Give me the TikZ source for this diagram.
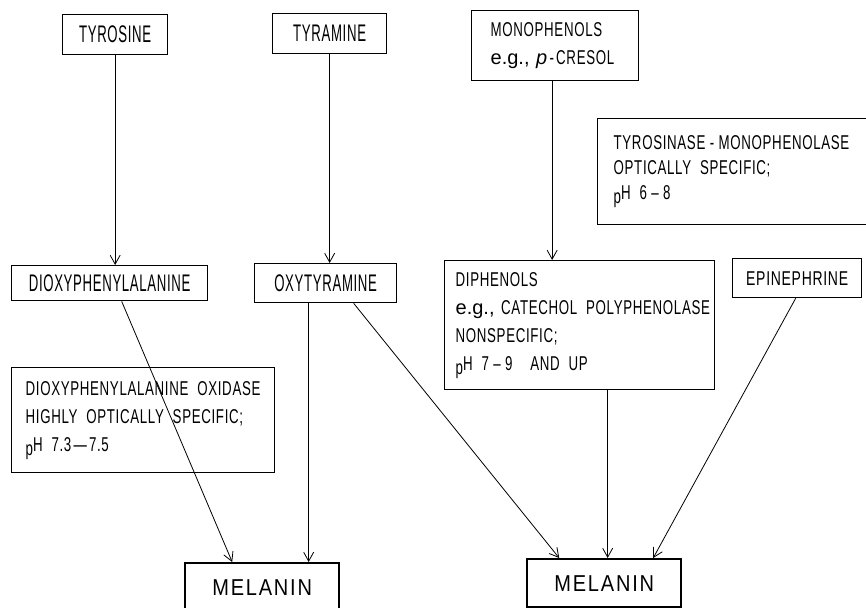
\documentclass[tikz,border=0pt]{standalone}
\usepackage{fontspec}
\usepackage{graphicx}
\usetikzlibrary{arrows.meta}
\newfontfamily\condf[LetterSpace=5]{Liberation Sans}
\newfontfamily\melf[LetterSpace=9]{Liberation Sans}
\newfontfamily\normf{Liberation Sans}
\newcommand\cx[1]{\scalebox{0.55}[1]{\condf #1}}
\newcommand\cy[1]{\scalebox{0.665}[1]{\condf #1}}
\newcommand\egx{{\normf e.g.,}}
\tikzset{
  box/.style={draw, line width=1.3pt, inner sep=0pt, anchor=north west,
    font=\normf\fontsize{24}{28}\selectfont},
  mbox/.style={box, align=left, font=\normf\fontsize{20}{28}\selectfont},
  melbox/.style={draw, line width=2.4pt, inner sep=0pt, anchor=north west,
    minimum width=154pt, minimum height=48pt, font=\melf\fontsize{23}{28}\selectfont},
  conn/.style={line width=0.8pt, -{Straight Barb[length=9pt,width=10pt,line width=0.8pt]}}
}
\begin{document}
\begin{tikzpicture}[x=1pt,y=-1pt]
\useasboundingbox (0,0) rectangle (866,607);
\clip (0,0) rectangle (866,607);
\fill[white] (0,0) rectangle (866,607);

\node[box, minimum width=105pt, minimum height=40pt] (tyrosine) at (62,14) {\cx{TYROSINE}};
\node[box, minimum width=114pt, minimum height=40pt] (tyramine) at (272,13) {\cx{TYRAMINE}};
\node[mbox, text width=129pt, inner xsep=19pt, minimum height=70pt] (mono) at (471,10)
  {\cy{MONOPHENOLS}\\\mbox{\egx\ {\itshape p}\cy{\,-\,CRESOL}}};
\node[mbox, text width=271pt, inner xsep=16pt, minimum height=106pt,
  font=\normf\fontsize{20}{25}\selectfont] (tyrosinase) at (597,118)
  {\cy{TYROSINASE\ -\ MONOPHENOLASE}\\\cy{OPTICALLY\ \ SPECIFIC;}\\\cy{\raisebox{-4pt}{p}H\ \ 6\ \textendash\ 8}};

\node[box, minimum width=196pt, minimum height=35pt] (dioxy) at (11,265) {\cx{DIOXYPHENYLALANINE}};
\node[box, minimum width=142pt, minimum height=39pt] (oxyt) at (254,263) {\cx{OXYTYRAMINE}};
\node[mbox, text width=235pt, inner xsep=14pt, minimum height=105pt] (oxidase) at (11,367)
  {\cy{DIOXYPHENYLALANINE\ \ OXIDASE}\\\cy{HIGHLY\ \ OPTICALLY\ \ SPECIFIC;}\\\cy{\raisebox{-4pt}{p}H\ \ 7.3\,\textemdash\,7.5}};
\node[mbox, text width=248pt, inner xsep=11pt, minimum height=129pt] (diph) at (444,260)
  {\cy{DIPHENOLS}\\\mbox{\egx\ \cy{CATECHOL\ \ POLYPHENOLASE}}\\\cy{NONSPECIFIC;}\\\cy{\raisebox{-4pt}{p}H\ \ 7\ \textendash\ 9\ \ \ \ AND\ \ UP}};
\node[box, minimum width=129pt, minimum height=39pt, font=\normf\fontsize{20}{22}\selectfont] (epi) at (732,258)
  {\scalebox{0.70}[1]{\condf EPINEPHRINE}};

\node[melbox] (melL) at (184,562) {\scalebox{0.87}[1]{MELANIN}};
\node[melbox] (melR) at (526,558) {\scalebox{0.87}[1]{MELANIN}};

\draw[conn] (tyrosine.south) -- (tyrosine.south |- dioxy.north);
\draw[conn] (tyramine.south) -- (tyramine.south |- oxyt.north);
\draw[conn] ([xshift=-3pt]mono.south) -- ([xshift=-3pt]mono.south |- diph.north);
\draw[conn] ([xshift=12pt]dioxy.south) -- ([xshift=-30pt]melL.north);
\draw[conn] ([xshift=-17pt]oxyt.south) -- ([xshift=-17pt]oxyt.south |- melL.north);
\draw[conn] ([xshift=28pt]oxyt.south) -- ([xshift=-45pt]melR.north);
\draw[conn] ([xshift=28pt]diph.south) -- ([xshift=28pt]diph.south |- melR.north);
\draw[conn] ([xshift=-1.5pt]epi.south) -- ([xshift=49pt]melR.north);
\end{tikzpicture}
\end{document}
